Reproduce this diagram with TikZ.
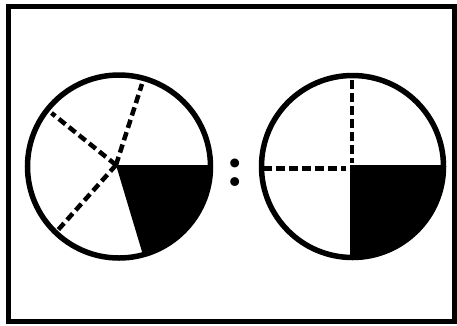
\documentclass[tikz,border=0pt]{standalone}
\begin{document}
\begin{tikzpicture}[x=1pt,y=-1pt,
  rim/.style={line width=5.5pt,draw=black},
  dashline/.style={line width=4.5pt,draw=black,dash pattern=on 8.5pt off 4.5pt},
  frame/.style={line width=5pt,draw=black}]
\useasboundingbox (0,0) rectangle (457,325);
\fill[white] (0,0) rectangle (457,325);
\draw[frame] (8.5,6.5) rectangle (454.5,321.5);
% left circle
\coordinate (lc) at (119,166.5);
\coordinate (lp) at (116,165);
\begin{scope}
  \clip (lc) circle (91.5);
  \fill[black] (lp) -- (240,165) -- (240,300) -- (156.5,300) -- cycle;
\end{scope}
\coordinate (la) at (142,84);
\coordinate (lb) at (51.5,113);
\coordinate (ld) at (58,230);
\draw[dashline] (lp) -- (la);
\draw[dashline] (lp) -- (lb);
\draw[dashline] (lp) -- (ld);
\draw[rim] (lc) circle (91.5);
% colon
\node[font=\fontsize{62}{66}\selectfont\bfseries,anchor=base,inner sep=0pt] (colon) at (235.3,186.5) {:};
% right circle
\coordinate (rc) at (352.5,166.5);
\coordinate (rp) at (350,165);
\begin{scope}
  \clip (rc) circle (91);
  \fill[black] (rp) -- (460,165) -- (460,270) -- (350,270) -- cycle;
\end{scope}
\coordinate (rt) at (352,80);
\coordinate (rv) at (352,163);
\coordinate (rl) at (263,168.5);
\coordinate (rh) at (346,168.5);
\draw[dashline] (rt) -- (rv);
\draw[dashline] (rl) -- (rh);
\draw[rim] (rc) circle (91);
\end{tikzpicture}
\end{document}
